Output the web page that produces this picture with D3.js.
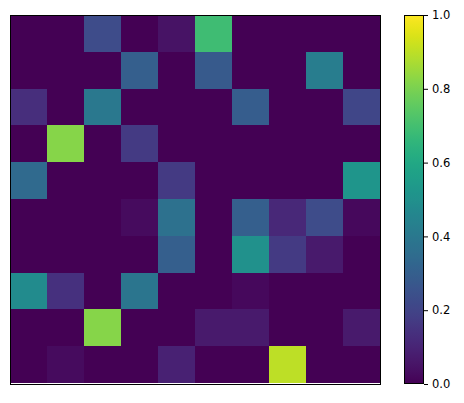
<!DOCTYPE html>
<html><head><meta charset="utf-8">
<script src="https://cdn.jsdelivr.net/npm/d3@7"></script>
<style>body{margin:0;background:#fff}</style>
</head><body>
<svg id="c" width="464" height="403"></svg>
<script>
const rowsIdx = [0,1,2,3,4,5,6,7,8,9];
const colsIdx = [0,1,2,3,4,5,6,7,8,9];
const values = [
  [0, 0, 0.23, 0, 0.05, 0.69, 0, 0, 0, 0],
  [0, 0, 0, 0.30, 0, 0.28, 0, 0, 0.42, 0],
  [0.13, 0, 0.40, 0, 0, 0, 0.29, 0, 0, 0.21],
  [0, 0.82, 0, 0.17, 0, 0, 0, 0, 0, 0],
  [0.34, 0, 0, 0, 0.17, 0, 0, 0, 0, 0.52],
  [0, 0, 0, 0.03, 0.37, 0, 0.30, 0.11, 0.23, 0.02],
  [0, 0, 0, 0, 0.30, 0, 0.50, 0.17, 0.07, 0],
  [0.48, 0.14, 0, 0.39, 0, 0, 0.02, 0, 0, 0],
  [0, 0, 0.82, 0, 0, 0.07, 0.07, 0, 0, 0.07],
  [0, 0.03, 0, 0, 0.09, 0, 0, 0.90, 0, 0]
];
const cbTicks = [0, 0.2, 0.4, 0.6, 0.8, 1.0];

const svg = d3.select("#c");
const color = d3.scaleSequential(d3.interpolateViridis).domain([0,1]);
const x = d3.scaleBand().domain(colsIdx).range([10,380]);
const y = d3.scaleBand().domain(rowsIdx).range([15,383]);

const cells = [];
values.forEach((r,i)=>r.forEach((v,j)=>cells.push({i,j,v})));
svg.append("g").selectAll("rect").data(cells).join("rect")
  .attr("x", d=>x(d.j)).attr("y", d=>y(d.i))
  .attr("width", x.bandwidth()+0.5).attr("height", y.bandwidth()+0.5)
  .attr("fill", d=>color(d.v)).attr("shape-rendering","crispEdges");
svg.append("rect").attr("x",10).attr("y",383).attr("width",370).attr("height",1).attr("fill","#fff");
// spines
const sp = svg.append("g").attr("fill","#000").attr("shape-rendering","crispEdges");
sp.append("rect").attr("x",10).attr("y",15).attr("width",371).attr("height",1);
sp.append("rect").attr("x",10).attr("y",384).attr("width",371).attr("height",1);
sp.append("rect").attr("x",10).attr("y",15).attr("width",1).attr("height",370);
sp.append("rect").attr("x",380).attr("y",15).attr("width",1).attr("height",370);

// colorbar
const defs = svg.append("defs");
const grad = defs.append("linearGradient").attr("id","vg").attr("x1",0).attr("y1",1).attr("x2",0).attr("y2",0);
d3.range(0,1.0001,0.02).forEach(t=>grad.append("stop").attr("offset",t).attr("stop-color",color(t)));
const cbX = 404, cbW = 20;
const cy = d3.scaleLinear().domain([0,1]).range([384,15]);
svg.append("rect").attr("x",cbX).attr("y",15).attr("width",cbW).attr("height",369).attr("fill","url(#vg)");
svg.append("rect").attr("x",cbX+0.5).attr("y",15.5).attr("width",cbW-1).attr("height",368)
  .attr("fill","none").attr("stroke","#000").attr("stroke-width",1);
const ax = svg.append("g").attr("transform",`translate(${cbX+cbW},0)`)
  .call(d3.axisRight(cy).tickValues(cbTicks).tickFormat(d3.format(".1f")).tickSize(4).tickPadding(4).tickSizeOuter(0));
ax.select(".domain").remove();
ax.selectAll("text").attr("font-family","DejaVu Sans").attr("font-size","11.5px").attr("fill","#000");
ax.selectAll("line").attr("stroke","#000");
</script>
</body></html>
